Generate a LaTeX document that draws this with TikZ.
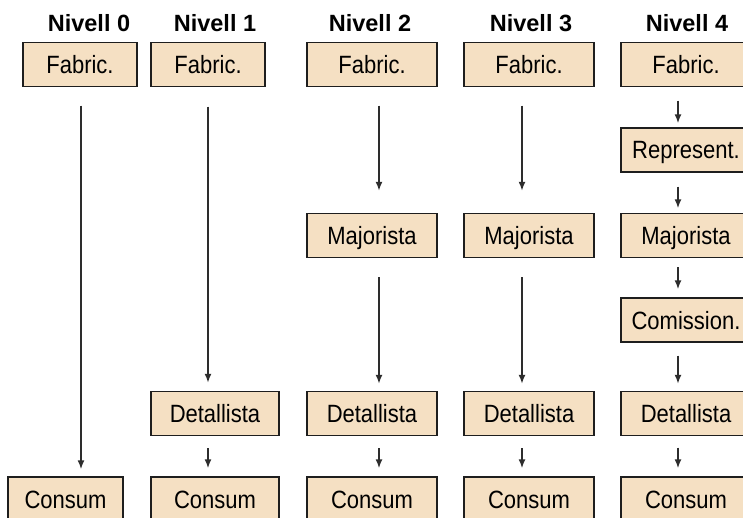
\documentclass[tikz,border=0pt]{standalone}
\usepackage{fontspec}
\setmainfont{Liberation Sans}
\newfontfamily\boxfont[FakeStretch=0.88]{Liberation Sans}
\usetikzlibrary{arrows.meta}
\definecolor{boxfill}{RGB}{245,224,195}
\definecolor{boxline}{RGB}{30,30,30}
\definecolor{arrowline}{RGB}{45,45,45}

\begin{document}
\begin{tikzpicture}[x=1pt,y=-1pt,
  level/.style={font=\fontsize{23.5}{26}\selectfont\bfseries, anchor=base, inner sep=0},
  stage/.style={draw=boxline, line width=1.4pt, fill=boxfill, minimum height=44pt,
    minimum width=#1, inner sep=0, font=\boxfont\fontsize{25}{28}\selectfont,
    text height=18pt, text depth=0pt},
  stage/.default=130pt,
  flow/.style={draw=arrowline, line width=1.6pt, -{Latex[length=9pt,width=7pt]}},
]
\fill[white] (0,0) rectangle (743,518);
\useasboundingbox (0,0) rectangle (743,518);

% column headings
\node[level] (h0) at (89,32) {Nivell 0};
\node[level] (h1) at (215,32) {Nivell 1};
\node[level] (h2) at (370,32) {Nivell 2};
\node[level] (h3) at (531,32) {Nivell 3};
\node[level] (h4) at (687,32) {Nivell 4};

% x positions of the vertical connectors
\coordinate (ax0) at (81,0);
\coordinate (ax1) at (208,0);
\coordinate (ax2) at (379,0);
\coordinate (ax3) at (522,0);
\coordinate (ax4) at (678,0);

% level 0
\node[stage=114pt] (f0) at (80,64.5) {Fabric.};
\node[stage=115pt] (c0) at (65.5,499) {Consum};

% level 1
\node[stage=114pt] (f1) at (208,64.5) {Fabric.};
\node[stage=128pt] (d1) at (215,413.5) {Detallista};
\node[stage=128pt] (c1) at (215,499) {Consum};

% level 2
\node[stage] (f2) at (372,64.5) {Fabric.};
\node[stage] (m2) at (372,235.5) {Majorista};
\node[stage] (d2) at (372,413.5) {Detallista};
\node[stage] (c2) at (372,499) {Consum};

% level 3
\node[stage] (f3) at (529,64.5) {Fabric.};
\node[stage] (m3) at (529,235.5) {Majorista};
\node[stage] (d3) at (529,413.5) {Detallista};
\node[stage] (c3) at (529,499) {Consum};

% level 4
\node[stage] (f4) at (686,64.5) {Fabric.};
\node[stage] (r4) at (686,150) {Represent.};
\node[stage] (m4) at (686,235.5) {Majorista};
\node[stage] (k4) at (686,320) {Comission.};
\node[stage] (d4) at (686,413.5) {Detallista};
\node[stage] (c4) at (686,499) {Consum};

% connectors
\draw[flow, shorten <=18.5pt, shorten >=7pt] (f0.south -| ax0) -- (c0.north -| ax0);

\draw[flow, shorten <=19.5pt, shorten >=8pt] (f1.south -| ax1) -- (d1.north -| ax1);
\draw[flow, shorten <=12pt, shorten >=8pt] (d1.south -| ax1) -- (c1.north -| ax1);

\draw[flow, shorten <=18.5pt, shorten >=22pt] (f2.south -| ax2) -- (m2.north -| ax2);
\draw[flow, shorten <=19pt, shorten >=7pt] (m2.south -| ax2) -- (d2.north -| ax2);
\draw[flow, shorten <=12pt, shorten >=8pt] (d2.south -| ax2) -- (c2.north -| ax2);

\draw[flow, shorten <=18.5pt, shorten >=22pt] (f3.south -| ax3) -- (m3.north -| ax3);
\draw[flow, shorten <=19pt, shorten >=7pt] (m3.south -| ax3) -- (d3.north -| ax3);
\draw[flow, shorten <=12pt, shorten >=8pt] (d3.south -| ax3) -- (c3.north -| ax3);

\draw[flow, shorten <=13.5pt, shorten >=4pt] (f4.south -| ax4) -- (r4.north -| ax4);
\draw[flow, shorten <=14pt, shorten >=4.5pt] (r4.south -| ax4) -- (m4.north -| ax4);
\draw[flow, shorten <=9pt, shorten >=8pt] (m4.south -| ax4) -- (k4.north -| ax4);
\draw[flow, shorten <=13pt, shorten >=7pt] (k4.south -| ax4) -- (d4.north -| ax4);
\draw[flow, shorten <=11.5pt, shorten >=8pt] (d4.south -| ax4) -- (c4.north -| ax4);
\end{tikzpicture}
\end{document}
